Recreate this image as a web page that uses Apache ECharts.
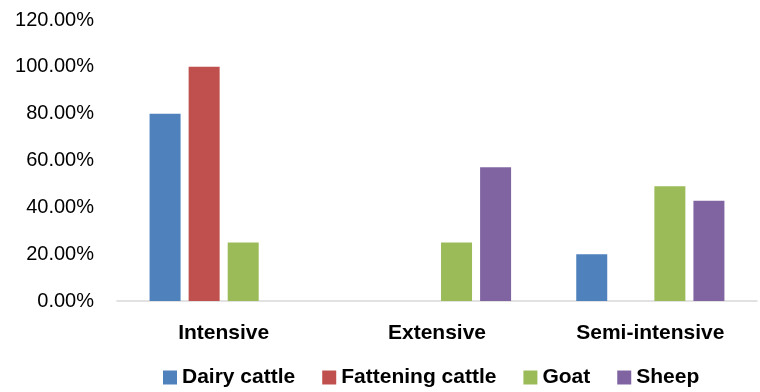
<!DOCTYPE html>
<html>
<head>
<meta charset="utf-8">
<script src="https://cdn.jsdelivr.net/npm/echarts@6/dist/echarts.min.js"></script>
<style>
  html, body { margin: 0; padding: 0; background: #fff; }
  #chart { width: 760px; height: 392px; }
</style>
</head>
<body>
<div id="chart"></div>
<script>
const categories = ['Intensive', 'Extensive', 'Semi-intensive'];
const seriesNames = ['Dairy cattle', 'Fattening cattle', 'Goat', 'Sheep'];
const dairyCattle = [80, 0, 20];
const fatteningCattle = [100, 0, 0];
const goat = [25, 25, 49];
const sheep = [0, 57.14, 42.86];
const colors = ['#4F81BD', '#C0504D', '#9BBB59', '#8064A2'];

const values = [dairyCattle, fatteningCattle, goat, sheep];
const fontFamily = '"Liberation Sans", Arial, sans-serif';

const chart = echarts.init(document.getElementById('chart'));

chart.setOption({
  animation: false,
  grid: { left: 117, right: 3, top: 20, bottom: 91 },
  legend: {
    top: 362,
    left: 158,
    itemWidth: 14,
    itemHeight: 14,
    itemGap: 27,
    icon: 'rect',
    textStyle: { fontFamily: fontFamily, fontSize: 21, fontWeight: 'bold', color: '#000' },
    data: seriesNames
  },
  xAxis: {
    type: 'category',
    data: categories,
    axisLine: { lineStyle: { color: '#D9D9D9', width: 1.5 } },
    axisTick: { show: false },
    axisLabel: { margin: 22, fontFamily: fontFamily, fontSize: 21, fontWeight: 'bold', color: '#000' }
  },
  yAxis: {
    type: 'value',
    min: 0,
    max: 120,
    interval: 20,
    axisLine: { show: false },
    axisTick: { show: false },
    splitLine: { show: false },
    axisLabel: {
      margin: 23,
      fontFamily: fontFamily,
      fontSize: 20,
      color: '#000',
      formatter: v => v.toFixed(2) + '%'
    }
  },
  series: seriesNames.map((name, i) => ({
    name: name,
    type: 'bar',
    data: values[i],
    barWidth: 31,
    barGap: '26%',
    itemStyle: { color: colors[i] }
  }))
});
</script>
</body>
</html>
